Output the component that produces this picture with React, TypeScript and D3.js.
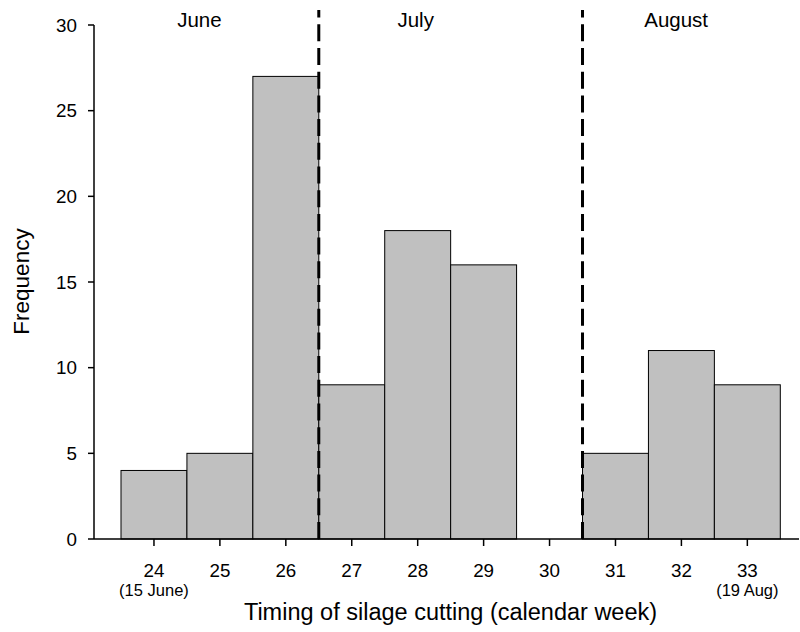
import React from "react";
import * as d3 from "d3";

const weeks = [24, 25, 26, 27, 28, 29, 30, 31, 32, 33];
const frequency = [4, 5, 27, 9, 18, 16, 0, 5, 11, 9];
const yTicks = [0, 5, 10, 15, 20, 25, 30];
const subLabels: Record<number, string> = { 24: "(15 June)", 33: "(19 Aug)" };
const monthNames = ["June", "July", "August"];
const monthCenters = [24.69, 27.97, 31.92];
const monthBoundaries = [26.5, 30.5];

export default function App() {
  const W = 800, H = 632;
  const x = d3.scaleLinear().domain([23.5, 33.5]).range([121, 780.3]);
  const y = d3.scaleLinear().domain([0, 30]).range([539, 25]);
  const axisX = 94;
  const font = "Liberation Sans, Arial, sans-serif";
  const bw = x(24.5) - x(23.5);
  return (
    <svg width={W} height={H} style={{ position: "absolute", left: 0, top: 0, background: "#fff" }} fontFamily={font}>
      {weeks.map((w, i) =>
        frequency[i] > 0 ? (
          <rect key={w} x={x(w - 0.5)} y={y(frequency[i])} width={bw} height={y(0) - y(frequency[i])}
            fill="#c0c0c0" stroke="#000" strokeWidth={1} />
        ) : null
      )}
      {monthBoundaries.map((b) => (
        <line key={b} x1={x(b)} x2={x(b)} y1={y(0)} y2={10} stroke="#000" strokeWidth={3} strokeDasharray="17,6.7" />
      ))}
      {/* y axis */}
      <line x1={axisX} x2={axisX} y1={y(30)} y2={y(0)} stroke="#000" strokeWidth={1.5} />
      {yTicks.map((t) => (
        <g key={t}>
          <line x1={axisX - 6} x2={axisX} y1={y(t)} y2={y(t)} stroke="#000" strokeWidth={1.5} />
          <text x={77} y={y(t)} dy="0.36em" textAnchor="end" fontSize={18.8}>{t}</text>
        </g>
      ))}
      {/* x axis */}
      <line x1={axisX} x2={799} y1={y(0)} y2={y(0)} stroke="#000" strokeWidth={1.5} />
      {weeks.map((w) => (
        <g key={w}>
          <line x1={x(w)} x2={x(w)} y1={y(0)} y2={y(0) + 7} stroke="#000" strokeWidth={1.5} />
          <text x={x(w)} y={577} textAnchor="middle" fontSize={18.8}>{w}</text>
          {subLabels[w] ? (
            <text x={x(w)} y={596} textAnchor="middle" fontSize={16.5}>{subLabels[w]}</text>
          ) : null}
        </g>
      ))}
      {monthNames.map((m, i) => (
        <text key={m} x={x(monthCenters[i])} y={27} textAnchor="middle" fontSize={20.5}>{m}</text>
      ))}
      <text x={450.5} y={620} textAnchor="middle" fontSize={23.5}>
        Timing of silage cutting (calendar week)
      </text>
      <text transform={`translate(29,281.5) rotate(-90)`} textAnchor="middle" fontSize={22.5}>Frequency</text>
    </svg>
  );
}
